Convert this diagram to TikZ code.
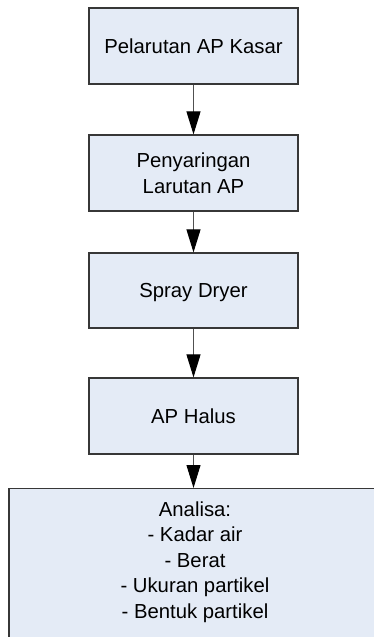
\documentclass[tikz,border=0pt]{standalone}
\usepackage{fontspec}
\setmainfont{Liberation Sans}
\usetikzlibrary{arrows.meta}
\definecolor{boxfill}{RGB}{228,235,246}
\definecolor{boxline}{RGB}{55,55,55}
\definecolor{arrline}{RGB}{80,80,80}
\begin{document}
\begin{tikzpicture}[x=1pt,y=-1pt,
  procbox/.style={draw=boxline, line width=1.2pt, fill=boxfill,
    minimum width=209pt, minimum height=76pt, inner sep=0pt, align=center,
    font=\fontsize{20.3}{25.5}\selectfont},
  oneline/.style={text height=14.5pt, text depth=0pt},
  txtstyle/.style={inner sep=0pt, align=center, font=\fontsize{20.3}{25.5}\selectfont},
  flow/.style={draw=arrline, line width=1pt,
    -{Triangle[length=23pt,width=14pt,color=black]}}]
\useasboundingbox (0,0) rectangle (374,637);
\clip (0,0) rectangle (374,637);
\node[procbox, oneline] (a) at (193.5,46) {Pelarutan AP Kasar};
\node[procbox] (b) at (193.5,173) {Penyaringan\\Larutan AP};
\node[procbox, oneline, minimum height=75pt] (c) at (193.5,290.5) {Spray Dryer};
\node[procbox, oneline] (d) at (193.5,416) {AP Halus};
\node[procbox, minimum width=372pt, minimum height=170pt, anchor=north] (e) at (195,488) {};
\node[txtstyle, anchor=north] (et) at (195,501.5) {Analisa:\\- Kadar air\\- Berat\\- Ukuran partikel\\- Bentuk partikel};
\draw[flow] (a.south) -- (b.north);
\draw[flow] (b.south) -- (c.north);
\draw[flow] (c.south) -- (d.north);
\draw[flow] (d.south) -- (d.south |- e.north);
\end{tikzpicture}
\end{document}
